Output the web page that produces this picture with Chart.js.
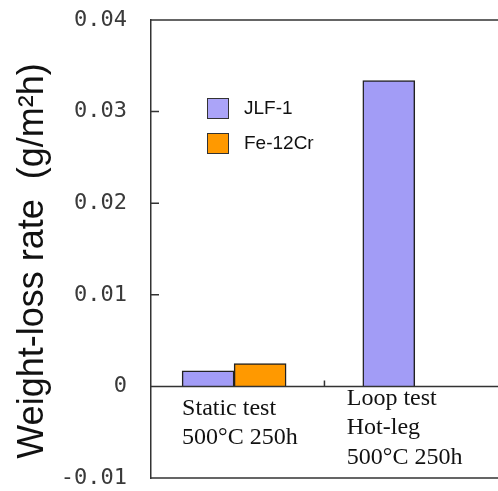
<!DOCTYPE html>
<html>
<head>
<meta charset="utf-8">
<script src="https://cdn.jsdelivr.net/npm/chart.js@4/dist/chart.umd.min.js"></script>
<style>
  html, body { margin: 0; padding: 0; background: #fff; overflow: hidden; }
  #wrap { position: relative; width: 498px; height: 491px; }
  #legend { position: absolute; left: 207px; top: 97px; font: 19px "Liberation Sans", Arial, sans-serif; color: #111; }
  #legend .item { display: flex; align-items: center; height: 22px; margin-bottom: 13px; }
  #legend .box { width: 20px; height: 19px; border: 1.5px solid #333; margin-right: 15px; }
</style>
</head>
<body>
<div id="wrap">
  <canvas id="chart" width="498" height="491"></canvas>
  <div id="legend"></div>
</div>
<script>
const categories = [
  ["Static test", "500°C 250h"],
  ["Loop test", "Hot-leg", "500°C 250h"]
];
const seriesNames = ["JLF-1", "Fe-12Cr"];
const jlf1 = [0.0017, 0.0334];
const fe12cr = [0.0025, null];
const yTickLabels = ["-0.01", "0", "0.01", "0.02", "0.03", "0.04"];
const yTitle = "Weight-loss rate  (g/m²h)";

const colors = ["#a29cf6", "#ff9900"];
const legendColors = ["#aba4f8", "#ff9900"];

/* ===== FRAME, INWARD TICKS, CATEGORY TEXT, Y TITLE ===== */
const framePlugin = {
  id: "frame",
  afterDatasetsDraw(chart) {
    const { ctx, chartArea: a, scales: { x, y } } = chart;
    const y0 = y.getPixelForValue(0);
    ctx.save();
    ctx.strokeStyle = "#333";
    ctx.lineWidth = 1.5;
    ctx.beginPath();
    ctx.moveTo(a.left, a.top); ctx.lineTo(a.right + 2, a.top);
    ctx.moveTo(a.left, a.bottom); ctx.lineTo(a.right + 2, a.bottom);
    ctx.moveTo(a.left, y0); ctx.lineTo(a.right + 2, y0);
    y.ticks.forEach(t => {
      const py = y.getPixelForValue(t.value);
      ctx.moveTo(a.left, py); ctx.lineTo(a.left + 8, py);
    });
    const sx = x.getPixelForValue(0.5);
    ctx.moveTo(sx, y0); ctx.lineTo(sx, y0 - 6);
    ctx.stroke();

    ctx.font = '24px "Liberation Serif", "Times New Roman", serif';
    ctx.fillStyle = "#111";
    ctx.textAlign = "left";
    ctx.textBaseline = "middle";
    const offs = [[-52, 22], [-68, 12]];
    categories.forEach((lines, i) => {
      const px = x.getPixelForValue(i) + offs[i][0];
      lines.forEach((s, j) => ctx.fillText(s, px, y0 + offs[i][1] + j * 29.5));
    });

    // axis title, a little below the axis middle as in the original
    ctx.translate(33, (a.top + a.bottom) / 2 + 12);
    ctx.rotate(-Math.PI / 2);
    ctx.textAlign = "center";
    ctx.font = '36px "Liberation Sans", Arial, sans-serif';
    ctx.fillText(yTitle, 0, 0);
    ctx.restore();
  }
};

new Chart(document.getElementById("chart"), {
  type: "bar",
  data: {
    datasets: [
      { label: seriesNames[0], data: jlf1.map((v, i) => ({ x: i, y: v })), backgroundColor: colors[0] },
      { label: seriesNames[1], data: fe12cr.map((v, i) => ({ x: i, y: v })), backgroundColor: colors[1] }
    ]
  },
  options: {
    responsive: false,
    animation: false,
    devicePixelRatio: 1,
    layout: { padding: { top: 20, bottom: 13, right: 1, left: 0 } },
    datasets: { bar: { barThickness: 52, borderWidth: 1.5, borderColor: "#222" } },
    plugins: { legend: { display: false }, tooltip: { enabled: false } },
    scales: {
      x: { type: "linear", min: -0.46, max: 1.455, offset: false, display: false },
      y: {
        min: -0.01,
        max: 0.04,
        afterFit: s => { s.width = 151; s.paddingTop = 0; s.paddingBottom = 0; },
        border: { display: true, color: "#333", width: 1.5 },
        grid: { display: false },
        ticks: {
          stepSize: 0.01,
          padding: 16,
          color: "#3a3a3a",
          font: { family: '"DejaVu Sans Mono", monospace', size: 22 },
          callback: (v, i) => yTickLabels[i]
        }
      }
    }
  },
  plugins: [framePlugin]
});

/* ===== LEGEND ===== */
document.getElementById("legend").innerHTML = seriesNames.map((n, i) =>
  `<div class="item"><span class="box" style="background:${legendColors[i]}"></span>${n}</div>`
).join("");
</script>
</body>
</html>
